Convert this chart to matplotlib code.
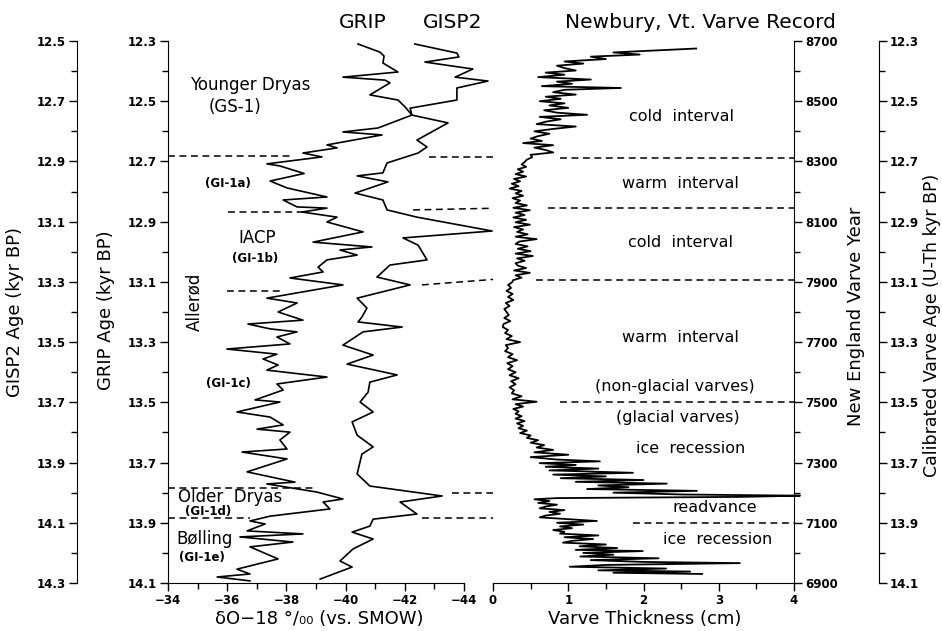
import numpy as np
import matplotlib.pyplot as plt
from matplotlib.ticker import MultipleLocator, FormatStrFormatter

plt.rcParams['font.family'] = ['DejaVu Sans']

# GRIP d18O (permil) against GRIP age (kyr BP)
grip_age = [12.310, 12.337, 12.350, 12.373, 12.403, 12.420, 12.430, 12.439, 12.479, 12.496,
            12.519, 12.546, 12.589, 12.602, 12.612, 12.645, 12.655, 12.672, 12.685, 12.708,
            12.715, 12.740, 12.765, 12.788, 12.818, 12.828, 12.851, 12.855, 12.868, 12.885,
            12.901, 12.934, 12.968, 12.984, 12.994, 13.011, 13.027, 13.051, 13.067, 13.087,
            13.110, 13.154, 13.170, 13.200, 13.227, 13.240, 13.256, 13.266, 13.283, 13.306,
            13.323, 13.340, 13.356, 13.376, 13.393, 13.416, 13.439, 13.459, 13.492, 13.499,
            13.532, 13.549, 13.575, 13.589, 13.599, 13.625, 13.655, 13.665, 13.688, 13.731,
            13.765, 13.771, 13.798, 13.821, 13.831, 13.854, 13.878, 13.894, 13.904, 13.927,
            13.937, 13.947, 13.964, 13.980, 14.020, 14.054, 14.070, 14.080, 14.093]
grip_d18o = [-40.42, -41.16, -41.30, -41.26, -41.77, -39.91, -41.33, -41.50, -40.82, -41.77,
             -42.01, -42.24, -41.09, -39.91, -41.23, -39.37, -39.71, -38.56, -39.20, -37.34,
             -37.78, -38.60, -37.45, -38.02, -39.37, -37.89, -38.36, -39.37, -38.53, -39.71,
             -39.37, -40.59, -38.90, -40.89, -39.81, -40.39, -39.37, -39.07, -39.24, -38.12,
             -39.91, -37.34, -38.36, -37.72, -38.56, -36.70, -37.45, -38.36, -37.68, -38.12,
             -35.99, -37.68, -37.21, -37.72, -37.34, -39.37, -37.68, -37.89, -36.94, -37.78,
             -36.33, -37.45, -37.89, -37.01, -38.12, -37.78, -38.02, -36.50, -38.02, -36.67,
             -38.29, -37.34, -39.03, -39.91, -39.24, -39.47, -37.45, -36.77, -37.28, -36.67,
             -38.56, -36.43, -38.22, -36.77, -37.72, -36.33, -36.77, -35.66, -36.77]

# GISP2 d18O (permil) against GISP2 age (kyr BP)
gisp2_age = [12.510, 12.540, 12.553, 12.570, 12.593, 12.620, 12.633, 12.656, 12.696, 12.723,
             12.746, 12.772, 12.829, 12.852, 12.872, 12.905, 12.938, 12.948, 12.968, 13.005,
             13.028, 13.061, 13.085, 13.131, 13.154, 13.178, 13.227, 13.244, 13.284, 13.310,
             13.354, 13.387, 13.417, 13.433, 13.450, 13.466, 13.510, 13.543, 13.573, 13.609,
             13.633, 13.666, 13.699, 13.732, 13.765, 13.809, 13.848, 13.872, 13.938, 13.978,
             14.011, 14.031, 14.071, 14.088, 14.111, 14.131, 14.154, 14.187, 14.227, 14.247,
             14.287]
gisp2_d18o = [-42.34, -43.76, -43.83, -42.68, -44.30, -43.70, -44.81, -43.76, -43.76, -42.18,
              -42.24, -43.46, -42.41, -42.75, -42.45, -41.40, -41.26, -40.39, -41.43, -40.32,
              -41.26, -41.40, -42.41, -44.95, -41.94, -42.45, -42.75, -41.50, -41.06, -42.18,
              -40.39, -40.72, -40.55, -40.42, -41.91, -40.59, -39.91, -40.93, -40.05, -41.74,
              -40.82, -40.76, -40.49, -40.93, -40.22, -40.39, -40.93, -40.55, -40.39, -40.82,
              -43.26, -41.84, -42.41, -40.93, -40.82, -40.22, -40.93, -40.25, -39.81, -40.22,
              -39.14]

# Newbury varve thickness (cm) against New England varve year
varve_year = [8675, 8668, 8662, 8655, 8648, 8640, 8632, 8625, 8618, 8610, 8602, 8595, 8588, 8580,
              8572, 8565, 8558, 8550, 8544, 8538, 8530, 8522, 8515, 8508, 8500, 8493, 8486, 8478,
              8470, 8462, 8455, 8448, 8440, 8432, 8424, 8416, 8408, 8400, 8392, 8384, 8376, 8368,
              8361, 8354, 8346, 8338, 8330, 8322, 8314, 8306, 8298, 8290, 8282, 8274, 8266, 8258,
              8250, 8242, 8234, 8226, 8218, 8210, 8202, 8194, 8186, 8178, 8170, 8162, 8154, 8146,
              8138, 8130, 8122, 8114, 8106, 8098, 8090, 8082, 8074, 8066, 8058, 8050, 8042, 8034,
              8026, 8018, 8010, 8002, 7994, 7986, 7978, 7970, 7962, 7954, 7946, 7938, 7930, 7922,
              7914, 7906, 7898, 7890, 7880, 7870, 7860, 7850, 7840, 7830, 7820, 7810, 7800, 7790,
              7780, 7770, 7760, 7750, 7740, 7730, 7720, 7710, 7700, 7690, 7680, 7670, 7660, 7650,
              7640, 7630, 7620, 7610, 7600, 7590, 7580, 7570, 7560, 7550, 7540, 7530, 7520, 7510,
              7502, 7494, 7486, 7478, 7470, 7462, 7454, 7446, 7438, 7430, 7422, 7414, 7406, 7398,
              7390, 7382, 7374, 7366, 7358, 7350, 7342, 7334, 7326, 7318, 7310, 7304, 7298, 7292,
              7286, 7280, 7274, 7266, 7260, 7254, 7248, 7242, 7236, 7230, 7224, 7218, 7212, 7206,
              7200, 7194, 7190, 7186, 7182, 7178, 7172, 7166, 7160, 7154, 7148, 7142, 7136, 7130,
              7124, 7118, 7112, 7106, 7100, 7094, 7088, 7082, 7076, 7070, 7064, 7058, 7052, 7046,
              7040, 7034, 7028, 7022, 7016, 7010, 7006, 7000, 6994, 6988, 6982, 6976, 6970, 6966,
              6960, 6954, 6948, 6942, 6938, 6934, 6930]
varve_cm = [2.70, 2.10, 1.60, 1.95, 1.30, 1.50, 0.95, 1.20, 0.85, 0.95, 1.10, 0.70, 0.95, 0.60,
            1.30, 0.85, 1.05, 0.65, 1.70, 0.95, 0.80, 1.10, 0.70, 0.90, 0.62, 0.95, 0.75, 1.00,
            0.68, 0.85, 1.25, 0.62, 0.90, 0.70, 0.58, 1.10, 0.80, 0.55, 0.75, 0.60, 0.50, 0.65,
            0.40, 0.80, 0.55, 0.70, 0.80, 0.50, 0.52, 0.45, 0.42, 0.38, 0.44, 0.33, 0.40, 0.30,
            0.44, 0.28, 0.36, 0.25, 0.34, 0.22, 0.38, 0.30, 0.40, 0.26, 0.36, 0.30, 0.45, 0.27,
            0.49, 0.30, 0.42, 0.27, 0.44, 0.30, 0.49, 0.28, 0.40, 0.32, 0.46, 0.30, 0.58, 0.35,
            0.30, 0.46, 0.33, 0.50, 0.30, 0.53, 0.32, 0.42, 0.30, 0.33, 0.44, 0.28, 0.49, 0.30,
            0.38, 0.27, 0.25, 0.20, 0.24, 0.18, 0.26, 0.20, 0.27, 0.17, 0.22, 0.15, 0.18, 0.21,
            0.15, 0.23, 0.14, 0.13, 0.20, 0.16, 0.25, 0.18, 0.36, 0.17, 0.20, 0.16, 0.26, 0.20,
            0.32, 0.19, 0.26, 0.20, 0.30, 0.22, 0.34, 0.24, 0.30, 0.22, 0.28, 0.25, 0.38, 0.26,
            0.58, 0.30, 0.40, 0.27, 0.34, 0.30, 0.38, 0.30, 0.42, 0.32, 0.40, 0.34, 0.45, 0.36,
            0.50, 0.45, 0.60, 0.50, 0.68, 0.58, 0.80, 0.55, 1.00, 0.50, 0.85, 1.42, 0.62, 1.10,
            0.70, 1.40, 0.75, 1.86, 0.80, 1.50, 0.90, 2.00, 1.10, 2.31, 1.40, 1.80, 1.25, 2.71,
            1.60, 2.50, 4.08, 3.30, 0.85, 0.55, 0.75, 0.60, 0.85, 0.70, 0.62, 0.95, 0.75, 0.89,
            0.70, 0.62, 1.00, 1.38, 0.85, 1.20, 0.89, 1.05, 0.80, 0.95, 0.89, 1.40, 0.95, 1.33,
            1.05, 0.93, 1.50, 1.15, 1.65, 1.10, 1.99, 1.20, 1.60, 1.16, 2.20, 1.30, 2.00, 3.28,
            1.50, 1.02, 2.30, 1.40, 2.62, 1.60, 2.78]

# interval boundaries (dashed lines)
grip_bound_age = [12.682, 12.868, 13.130, 13.785, 13.884]
grip_bound_from = [-34.00, -36.03, -35.99, -34.00, -34.00]
grip_bound_to = [-38.22, -38.63, -37.78, -39.03, -36.77]
link_age_from = [12.685, 12.861, 13.110, 13.801, 13.884]
link_age_to = [12.685, 12.855, 13.090, 13.801, 13.884]
link_from = [-42.82, -42.28, -42.58, -43.59, -42.58]
link_to = [-45.45, -45.22, -45.22, -45.89, -46.24]
varve_bound_year = [8311, 8145, 7906, 7500, 7100]
varve_bound_from = [0.89, 0.73, 0.57, 0.89, 1.86]

W, H = 942, 631
fig = plt.figure(figsize=(W / 100, H / 100), dpi=100)

ax = fig.add_axes([168 / W, 48 / H, 296 / W, 542 / H])
axv = fig.add_axes([493 / W, 48 / H, 301 / W, 542 / H])

lw = 1.2
dash = (0, (4.5, 3))


def style_ticks(a, axis):
    a.tick_params(axis=axis, which='major', length=6, width=1, direction='out', pad=2,
                  labelsize=8.5)
    a.tick_params(axis=axis, which='minor', length=4, width=1, direction='out')
    labs = a.get_xticklabels() if axis == 'x' else a.get_yticklabels()
    for lab in labs:
        lab.set_fontweight('bold')


# ---- isotope panel
ax.set_xlim(-34, -44)
ax.set_ylim(14.1, 12.3)
ax.plot(grip_d18o, grip_age, color='black', lw=lw, clip_on=False)
for side in ['top', 'right']:
    ax.spines[side].set_visible(False)
ax.xaxis.set_major_locator(MultipleLocator(2))
ax.xaxis.set_minor_locator(MultipleLocator(1))
ax.yaxis.set_major_locator(MultipleLocator(0.2, offset=0.1))
ax.yaxis.set_minor_locator(MultipleLocator(0.1))
ax.yaxis.set_major_formatter(FormatStrFormatter('%.1f'))

# GISP2 age axis, further left
axg = ax.twinx()
axg.set_ylim(14.3, 12.5)
axg.plot(gisp2_d18o, gisp2_age, color='black', lw=lw, clip_on=False)
for side in ['top', 'right', 'bottom']:
    axg.spines[side].set_visible(False)
axg.spines['left'].set_visible(True)
axg.spines['left'].set_position(('axes', -91 / 296))
axg.yaxis.tick_left()
axg.yaxis.set_major_locator(MultipleLocator(0.2, offset=0.1))
axg.yaxis.set_minor_locator(MultipleLocator(0.1))
axg.yaxis.set_major_formatter(FormatStrFormatter('%.1f'))

ax.yaxis.tick_left()
style_ticks(ax, 'x')
style_ticks(ax, 'y')
style_ticks(axg, 'y')

for a, x0, x1 in zip(grip_bound_age, grip_bound_from, grip_bound_to):
    ax.plot([x0, x1], [a, a], color='black', lw=1.1, ls=dash)
for a0, a1, x0, x1 in zip(link_age_from, link_age_to, link_from, link_to):
    ax.plot([x0, x1], [a0, a1], color='black', lw=1.1, ls=dash, clip_on=False)

# ---- varve panel
axv.set_xlim(0, 4)
axv.set_ylim(6900, 8700)
axv.plot(varve_cm, varve_year, color='black', lw=1.3, clip_on=False)
for side in ['top', 'left']:
    axv.spines[side].set_visible(False)
axv.xaxis.set_major_locator(MultipleLocator(1))
axv.xaxis.set_minor_locator(MultipleLocator(0.5))
axv.yaxis.set_major_locator(MultipleLocator(200, offset=100))
axv.yaxis.set_minor_locator(MultipleLocator(100))
for yr, x0 in zip(varve_bound_year, varve_bound_from):
    axv.plot([x0, 4], [yr, yr], color='black', lw=1.1, ls=dash)

# calibrated age axis, further right
axc = axv.twinx()
axc.set_ylim(14.1, 12.3)
for side in ['top', 'left', 'bottom']:
    axc.spines[side].set_visible(False)
axc.spines['right'].set_position(('axes', 1 + 85 / 301))
axc.yaxis.set_major_locator(MultipleLocator(0.2, offset=0.1))
axc.yaxis.set_minor_locator(MultipleLocator(0.1))
axc.yaxis.set_major_formatter(FormatStrFormatter('%.1f'))

axv.yaxis.tick_right()
axv.spines['right'].set_visible(True)
style_ticks(axv, 'x')
style_ticks(axv, 'y')
style_ticks(axc, 'y')

# ---- interval labels
big = 12
small = 8.5
ax.text(-36.77, 12.446, 'Younger Dryas', fontsize=big, ha='center', va='center')
ax.text(-36.26, 12.519, '(GS-1)', fontsize=big, ha='center', va='center')
ax.text(-36.03, 12.772, '(GI-1a)', fontsize=small, fontweight='bold', ha='center', va='center')
ax.text(-37.01, 12.954, 'IACP', fontsize=big, ha='center', va='center')
ax.text(-36.94, 13.021, '(GI-1b)', fontsize=small, fontweight='bold', ha='center', va='center')
ax.text(-34.88, 13.167, 'Allerød', fontsize=big, rotation=90, ha='center', va='center')
ax.text(-36.03, 13.436, '(GI-1c)', fontsize=small, fontweight='bold', ha='center', va='center')
ax.text(-36.09, 13.814, 'Older  Dryas', fontsize=big, ha='center', va='center')
ax.text(-35.35, 13.861, '(GI-1d)', fontsize=small, fontweight='bold', ha='center', va='center')
ax.text(-35.25, 13.954, 'Bølling', fontsize=big, ha='center', va='center')
ax.text(-35.15, 14.014, '(GI-1e)', fontsize=small, fontweight='bold', ha='center', va='center')

mid = 11.5
axv.text(2.51, 8448, 'cold  interval', fontsize=mid, ha='center', va='center')
axv.text(2.49, 8228, 'warm  interval', fontsize=mid, ha='center', va='center')
axv.text(2.49, 8032, 'cold  interval', fontsize=mid, ha='center', va='center')
axv.text(2.49, 7714, 'warm  interval', fontsize=mid, ha='center', va='center')
axv.text(2.42, 7551, '(non-glacial varves)', fontsize=mid, ha='center', va='center')
axv.text(2.46, 7448, '(glacial varves)', fontsize=mid, ha='center', va='center')
axv.text(2.62, 7348, 'ice  recession', fontsize=mid, ha='center', va='center')
axv.text(2.95, 7152, 'readvance', fontsize=mid, ha='center', va='center')
axv.text(2.98, 7046, 'ice  recession', fontsize=mid, ha='center', va='center')

# ---- titles and axis labels
fig.text(363 / W, 1 - 22 / H, 'GRIP', fontsize=14.5, ha='center', va='center')
fig.text(453 / W, 1 - 22 / H, 'GISP2', fontsize=14.5, ha='center', va='center')
fig.text(700 / W, 1 - 22 / H, 'Newbury, Vt. Varve Record', fontsize=14.5, ha='center', va='center')
lab = 13
fig.text(15 / W, 1 - 312 / H, 'GISP2 Age (kyr BP)', fontsize=lab, rotation=90, ha='center', va='center')
fig.text(106 / W, 1 - 310 / H, 'GRIP Age (kyr BP)', fontsize=lab, rotation=90, ha='center', va='center')
fig.text(856 / W, 1 - 316 / H, 'New England Varve Year', fontsize=lab, rotation=90, ha='center', va='center')
fig.text(932 / W, 1 - 325 / H, 'Calibrated Varve Age (U-Th kyr BP)', fontsize=12.5, rotation=90,
         ha='center', va='center')
fig.text(319 / W, 1 - 619 / H, 'δO−18 °/₀₀ (vs. SMOW)', fontsize=lab, ha='center', va='center')
fig.text(645 / W, 1 - 619 / H, 'Varve Thickness (cm)', fontsize=lab, ha='center', va='center')

fig.savefig('out.png', dpi=100)
